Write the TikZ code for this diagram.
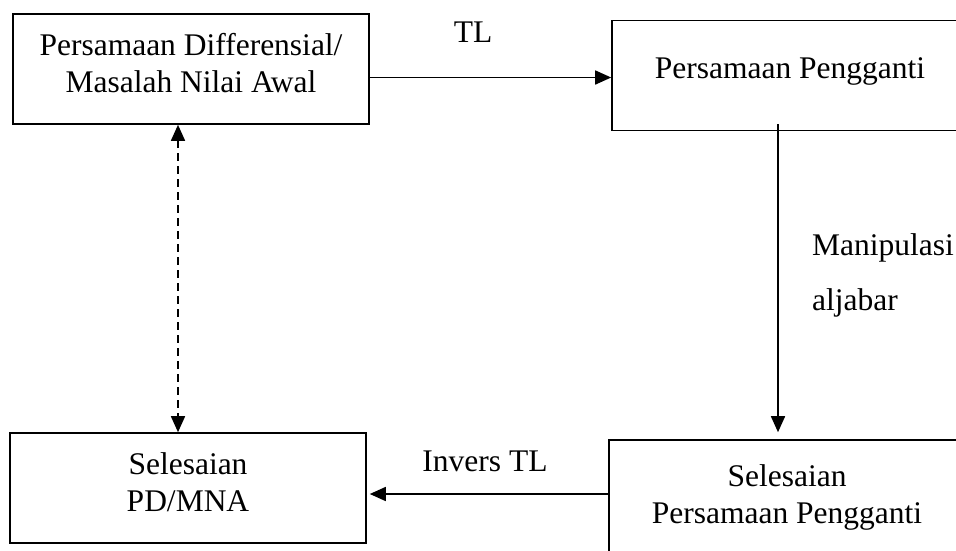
\documentclass[tikz,border=0pt]{standalone}
\usepackage{fontspec}
\setmainfont{Liberation Serif}
\usetikzlibrary{arrows.meta,positioning}
\tikzset{
  box/.style={draw, line width=1.6pt, minimum width=356pt, minimum height=110pt,
    align=center, inner sep=0pt},
  arr/.style={line width=1.6pt, -{Triangle[length=16pt,width=14pt]}},
  lbl/.style={inner sep=0pt, anchor=base}
}
\begin{document}
\begin{tikzpicture}[x=1pt,y=-1pt,font=\fontsize{31.5}{37}\selectfont]
  \useasboundingbox (0,0) rectangle (956,550);
  % boxes
  \node[box, text height=51pt, text depth=5pt] (pd) at (191,69) {Persamaan Differensial/\\Masalah Nilai Awal};
  \node[box, text height=22pt, text depth=17pt] (pp) at (790,75.5) {Persamaan Pengganti};
  \node[box, text height=51pt, text depth=5pt] (spd) at (188,488) {Selesaian\\PD/MNA};
  \node[box, text height=51pt, text depth=5pt, minimum height=120pt] (spp) at (787,500) {Selesaian\\Persamaan Pengganti};
  % arrows
  \draw[arr] ([yshift=-2pt]pp.west -| pd.east) -- ([yshift=-2pt]pp.west);
  \draw[arr] ([xshift=-12pt,yshift=7pt]pp.south) -- ([xshift=-9pt,yshift=7pt]spp.north);
  \draw[arr, shorten >=3pt] ([yshift=6pt]spp.west) -- ([yshift=6pt]spp.west -| spd.east);
  \draw[line width=1.6pt, dash pattern=on 8pt off 5pt,
    {Triangle[length=16pt,width=14pt]}-{Triangle[length=16pt,width=14pt]}]
    ([xshift=-13pt]pd.south) -- ([xshift=-13pt]pd.south |- spd.north);
  % labels
  \node[lbl] (tl) at (473,42) {TL};
  \node[lbl] (itl) at (485,471) {Invers TL};
  \node[lbl, anchor=base west] (mp) at (812,255) {Manipulasi};
  \node[lbl, anchor=base west] (aj) at (812,310) {aljabar};
\end{tikzpicture}
\end{document}
